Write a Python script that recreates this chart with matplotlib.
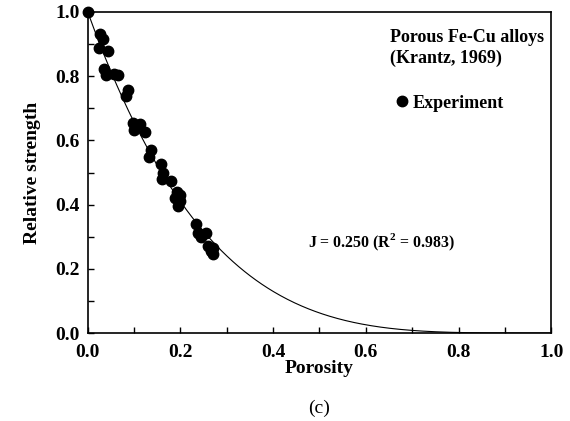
import numpy as np
import matplotlib
matplotlib.use("Agg")
import matplotlib.pyplot as plt
from matplotlib.ticker import MultipleLocator

plt.rcParams['font.family'] = ['Liberation Serif', 'DejaVu Serif']
plt.rcParams['font.weight'] = 'bold'
plt.rcParams['mathtext.fontset'] = 'custom'
plt.rcParams['mathtext.rm'] = 'Liberation Serif:bold'
plt.rcParams['mathtext.bf'] = 'Liberation Serif:bold'

# Experimental data (Krantz, 1969)
porosity = [0.0, 0.027, 0.033, 0.025, 0.043, 0.035, 0.040, 0.057, 0.066,
            0.087, 0.083, 0.098, 0.112, 0.100, 0.123, 0.137, 0.133, 0.157,
            0.162, 0.160, 0.180, 0.193, 0.188, 0.200, 0.200, 0.195, 0.233,
            0.238, 0.255, 0.245, 0.260, 0.270, 0.270, 0.265]
strength = [1.0, 0.930, 0.915, 0.888, 0.880, 0.823, 0.805, 0.807, 0.805,
            0.757, 0.737, 0.655, 0.650, 0.633, 0.627, 0.570, 0.549, 0.526,
            0.497, 0.480, 0.475, 0.440, 0.420, 0.430, 0.410, 0.395, 0.340,
            0.310, 0.312, 0.300, 0.272, 0.266, 0.245, 0.255]

J = 0.250
R2 = 0.983

x_ticks = [0.0, 0.2, 0.4, 0.6, 0.8, 1.0]
y_ticks = [0.0, 0.2, 0.4, 0.6, 0.8, 1.0]

fig = plt.figure(figsize=(5.70, 4.21), dpi=100)
ax = fig.add_axes([0.154, 0.209, 0.813, 0.7625])

p = np.linspace(0, 1, 400)
ax.plot(p, (1 - p) ** (1 / J), color='black', lw=0.8, zorder=2)
ax.plot(porosity, strength, 'o', color='black', ms=7.5, zorder=3,
        clip_on=False, label='Experiment')

ax.set_xlim(0, 1)
ax.set_ylim(0, 1)
ax.set_xticks(x_ticks)
ax.set_yticks(y_ticks)
ax.set_xticklabels([f"{v:.1f}" for v in x_ticks])
ax.set_yticklabels([f"{v:.1f}" for v in y_ticks])
ax.xaxis.set_minor_locator(MultipleLocator(0.1))
ax.yaxis.set_minor_locator(MultipleLocator(0.1))
ax.tick_params(which='both', direction='in', length=4.5, width=1.0,
               top=False, right=False, labelsize=14)
ax.tick_params(axis='x', which='both', pad=8)
ax.tick_params(axis='y', which='both', pad=6)
for s in ax.spines.values():
    s.set_linewidth(1.2)

ax.set_xlabel('Porosity', fontsize=14, fontweight='bold', labelpad=-1)
ax.set_ylabel('Relative strength', fontsize=14, fontweight='bold', labelpad=10)

ax.text(0.652, 0.922, 'Porous Fe-Cu alloys', fontsize=13, fontweight='bold',
        va='center', ha='left')
ax.text(0.652, 0.857, '(Krantz, 1969)', fontsize=13, fontweight='bold',
        va='center', ha='left')
ax.legend(loc='center left', bbox_to_anchor=(0.64, 0.716), frameon=False,
          handletextpad=0.15, handlelength=0.9, borderpad=0,
          prop={'size': 13, 'weight': 'bold'})
ax.text(0.475, 0.283, f'J = {J:.3f} (R$^2$ = {R2:.3f})', fontsize=11.4,
        fontweight='bold', va='center', ha='left')

fig.text(0.5605, 1 - 408 / 421, '(c)', fontsize=14, fontweight='normal',
         ha='center', va='center')

fig.savefig('out.png', dpi=100)
